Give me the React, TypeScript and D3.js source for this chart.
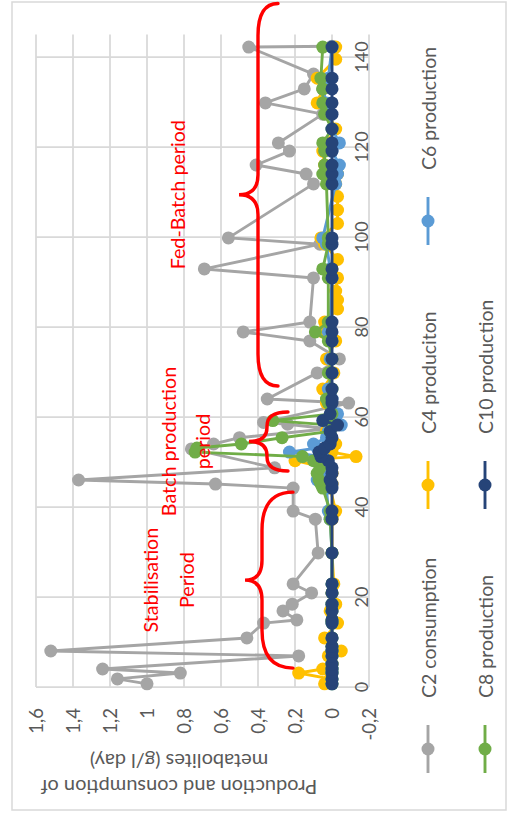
import React from "react";
import * as d3 from "d3";

// Page size; the chart is laid out in a landscape frame and turned a quarter turn.
const PAGE_W = 507;
const PAGE_H = 813;

const dayTicks = [0, 20, 40, 60, 80, 100, 120, 140];
const valueTicks = [-0.2, 0, 0.2, 0.4, 0.6, 0.8, 1, 1.2, 1.4, 1.6];
const valueTickLabels = ["-0,2", "0", "0,2", "0,4", "0,6", "0,8", "1", "1,2", "1,4", "1,6"];

// C2 consumption (g/l day)
const c2Days = [
  0.7, 1.8, 3.1, 4, 6.9, 8, 10.9, 14.2, 14.9, 16.9, 18.4, 20.9, 22.9, 29.8, 37.3, 39.1, 44.2, 45.1, 46,
  48.7, 52.9, 54, 55.4, 57.4, 58.4, 58.8, 63.1, 64, 69.8, 72.9, 76.9, 78.9, 81.1, 90.9, 92.9, 98.4, 99.8,
  111.8, 114, 116, 119.1, 120.9, 127.3, 129.8, 132.9, 136.2, 142.2, 142.4,
];
const c2Values = [
  1.0, 1.16, 0.82, 1.24, 0.18, 1.52, 0.46, 0.37, 0.19, 0.265, 0.215, 0.11, 0.21, 0.075, 0.09, 0.21, 0.21,
  0.63, 1.37, 0.31, 0.76, 0.64, 0.5, 0.02, 0.24, 0.37, -0.09, 0.35, 0.08, -0.04, 0.12, 0.48, 0.12, 0.1,
  0.69, 0.065, 0.56, 0.1, 0.14, 0.41, 0.23, 0.29, 0.05, 0.36, 0.15, 0.1, 0.45, 0.0,
];

// C4 production
const c4Days = [
  0.7, 1.8, 3.1, 4, 5.1, 6.9, 8, 9, 10.9, 14.2, 14.9, 16.9, 18.4, 20.9, 22.9, 29.8, 37.3, 39.1, 44.2, 45.1,
  46, 47.5, 48.7, 50.3, 51.2, 52.2, 53.1, 54, 55.4, 56.8, 58.2, 59.2, 60.7, 63.1, 64, 66.2, 69.8, 72.9,
  76.9, 78.9, 81.1, 84, 86, 88, 90.9, 92.9, 95, 98.4, 99.8, 103, 106, 109, 111.8, 114, 116, 119.1, 120.9,
  124, 127.3, 129.8, 132.9, 135.3, 139.5, 142.2,
];
const c4Values = [
  0.04, 0.01, 0.18, 0.05, 0.0, 0.02, -0.05, 0.0, 0.04, -0.03, 0.0, 0.01, -0.02, 0.0, -0.01, 0.0, 0.0, -0.02,
  0.01, 0.0, 0.02, 0.0, 0.03, 0.2, -0.13, 0.0, 0.02, -0.02, 0.01, 0.03, 0.0, 0.04, 0.0, 0.03, 0.02, 0.05,
  -0.01, 0.03, -0.02, 0.05, 0.04, -0.03, -0.03, -0.02, -0.03, 0.0, -0.03, 0.04, 0.06, -0.03, -0.03, -0.03,
  -0.02, -0.03, 0.04, 0.05, 0.03, -0.02, 0.02, 0.08, 0.05, 0.08, -0.02, -0.02,
];

// Sampling days shared by the C6, C8 and C10 measurements
const productDays = [
  0.7, 1.8, 3.1, 4, 5.1, 6.9, 8, 9, 10.9, 14.2, 14.9, 16.9, 18.4, 20.9, 22.9, 29.8, 37.3, 39.1, 44.2, 45.1,
  46, 47.5, 48.7, 50.3, 51.2, 52.2, 53.1, 54, 55.4, 56.8, 58.2, 59.2, 60.7, 63.1, 64, 66.2, 69.8, 72.9,
  76.9, 78.9, 81.1, 90.9, 92.9, 98.4, 99.8, 111.8, 114, 116, 119.1, 120.9, 124, 127.3, 129.8, 132.9,
  135.3, 142.2,
];
const c6Values = [
  0, 0, 0, 0, 0, 0, 0, 0, 0, 0, 0, 0, 0, 0, 0, 0, 0.01, 0.02, 0.03, 0.05, 0.08, 0.06, 0.03, 0.08, 0.05,
  0.23, 0.08, 0.1, 0.03, 0.02, -0.05, 0.02, -0.03, 0.01, 0, 0.02, 0, 0.01, 0, 0.02, 0.01, 0, 0.01, 0.03,
  0.05, -0.02, -0.03, -0.04, 0, -0.04, 0, 0.02, 0.03, 0.05, 0.02, 0,
];
const c8Values = [
  0, 0, 0, 0, 0, 0, 0, 0, 0, 0, 0, 0, 0, 0, 0, 0, 0.01, 0.01, 0.05, 0.06, 0.07, 0.08, 0.065, 0.1, 0.16,
  0.74, 0.73, 0.49, 0.27, 0.01, 0, 0.32, 0, 0.02, 0.03, 0, 0.02, 0, 0.02, 0.09, 0.02, 0.02, 0.05, 0.02,
  0.02, 0.03, 0.05, 0.04, 0.04, 0.05, 0, 0.04, 0.05, 0.05, 0.06, 0.05,
];
const c10Values = [
  0, 0, 0, 0, 0, 0, 0, 0, 0, 0, 0, 0, 0, 0, 0, 0, 0, 0, 0, 0, 0.01, 0, 0, 0.02, 0.06, 0.07, 0.04, 0.01,
  0, 0.01, -0.03, 0.05, 0.01, 0, 0, 0, 0, 0, 0, 0, 0, 0, 0, 0, 0, 0, 0, 0, 0, 0, 0, 0, 0, 0, 0, 0,
];

const seriesNames = ["C2 consumption", "C4 produciton", "C6 production", "C8 production", "C10 production"];
const seriesColors = ["#A5A5A5", "#FFC000", "#5B9BD5", "#70AD47", "#264478"];
const seriesDays = [c2Days, c4Days, productDays, productDays, productDays];
const seriesValues = [c2Values, c4Values, c6Values, c8Values, c10Values];

// Legend grid placement (column, row) for each series
const legendCols = [0, 1, 2, 0, 1];
const legendRows = [0, 0, 0, 1, 1];

// Period annotations
const periodLabels = [
  { lines: ["Stabilisation", "Period"], from: 4.2, to: 43.3 },
  { lines: ["Batch production", "period"], from: 48, to: 61.1 },
  { lines: ["Fed-Batch period"], from: 66.9, to: 151.9 },
];

const FONT = "Lato, 'Open Sans', sans-serif";
const GRID = "#D9D9D9";
const TEXT = "#595959";
const MARKER_R = 6.5;

function bracePath(a: number, b: number, vEnd: number, vMid: number, vTip: number, e: number, t: number) {
  const m = (a + b) / 2;
  return (
    `M${a},${vEnd} Q${a},${vMid} ${a + e},${vMid} L${m - t},${vMid} Q${m},${vMid} ${m},${vTip} ` +
    `Q${m},${vMid} ${m + t},${vMid} L${b - e},${vMid} Q${b},${vMid} ${b},${vEnd}`
  );
}

export default function App() {
  // Landscape frame: days run along the horizontal, values along the vertical.
  const x = d3.scaleLinear().domain([0, 145]).range([126, 778.5]);
  const y = d3.scaleLinear().domain([-0.2, 1.6]).range([369, 36]);
  const line = d3
    .line<[number, number]>()
    .x((d) => x(d[0]))
    .y((d) => y(d[1]));

  const [x0, x1] = x.range();
  const [yBottom, yTop] = y.range();

  // brace geometry per annotation
  const braceStyle = [
    { vEnd: 293, vMid: 262, vTip: 245, e: 38, t: 20, textY: [157.5, 193.5] },
    { vEnd: 288, vMid: 267, vTip: 249, e: 14, t: 14, textY: [175.5, 209.5] },
    { vEnd: 278, vMid: 258, vTip: 239, e: 32, t: 20, textY: [184.5] },
  ];

  const legendColU = [64, 328, 592];
  const legendRowV = [428, 485];

  return (
    <svg
      width={PAGE_W}
      height={PAGE_H}
      style={{ position: "absolute", left: 0, top: 0, display: "block", background: "#fff" }}
      fontFamily={FONT}
    >
      <rect x={0} y={0} width={PAGE_W} height={PAGE_H} fill="#fff" />
      <g transform={`translate(0,${PAGE_H}) rotate(-90)`}>
        {/* chart border */}
        <rect x={3} y={12} width={808} height={494} fill="none" stroke={GRID} strokeWidth={1.5} />

        {/* value gridlines */}
        {valueTicks.map((v) => (
          <line key={`gv${v}`} x1={x0} x2={x1} y1={y(v)} y2={y(v)} stroke={GRID} strokeWidth={1.75} />
        ))}
        {/* day gridlines */}
        {dayTicks.map((d) => (
          <line key={`gd${d}`} x1={x(d)} x2={x(d)} y1={yTop} y2={yBottom} stroke={GRID} strokeWidth={1.75} />
        ))}

        {/* value tick labels */}
        {valueTicks.map((v, i) => (
          <text
            key={`tv${v}`}
            x={105}
            y={y(v)}
            textAnchor="end"
            dominantBaseline="central"
            fontSize={18.5}
            fill={TEXT}
          >
            {valueTickLabels[i]}
          </text>
        ))}
        {/* day tick labels */}
        {dayTicks.map((d) => (
          <text key={`td${d}`} x={x(d)} y={368} textAnchor="middle" fontSize={18} fill={TEXT}>
            {d}
          </text>
        ))}

        {/* axis title */}
        <g fontSize={20} fill={TEXT} textAnchor="middle" dominantBaseline="central">
          <text transform={`translate(25,179) rotate(-90)`}>Production and consumption of</text>
          <text transform={`translate(51.5,179) rotate(-90)`}>metabolites (g/l day)</text>
        </g>

        {/* series */}
        {seriesNames.map((name, si) => {
          const pts: [number, number][] = seriesDays[si].map((d, i) => [d, seriesValues[si][i]]);
          return (
            <g key={name}>
              <path d={line(pts) ?? ""} fill="none" stroke={seriesColors[si]} strokeWidth={2.9} strokeLinejoin="round" />
              {pts.map((p, i) => (
                <circle key={i} cx={x(p[0])} cy={y(p[1])} r={MARKER_R} fill={seriesColors[si]} />
              ))}
            </g>
          );
        })}

        {/* period braces and labels */}
        {periodLabels.map((p, i) => {
          const s = braceStyle[i];
          const a = x(p.from);
          const b = x(p.to);
          const mid = (a + b) / 2;
          return (
            <g key={p.lines[0]}>
              <path
                d={bracePath(a, b, s.vEnd, s.vMid, s.vTip, s.e, s.t)}
                fill="none"
                stroke="#FF0000"
                strokeWidth={3.4}
                strokeLinecap="round"
              />
              {p.lines.map((ln, j) => (
                <text key={ln} x={mid} y={s.textY[j]} textAnchor="middle" fontSize={19.7} fill="#FF0000">
                  {ln}
                </text>
              ))}
            </g>
          );
        })}

        {/* legend */}
        {seriesNames.map((name, si) => {
          const u = legendColU[legendCols[si]];
          const v = legendRowV[legendRows[si]];
          return (
            <g key={`lg${name}`}>
              <line x1={u - 24} x2={u + 24} y1={v} y2={v} stroke={seriesColors[si]} strokeWidth={2.9} />
              <circle cx={u} cy={v} r={MARKER_R} fill={seriesColors[si]} />
              <text x={u + 51} y={v} dominantBaseline="central" fontSize={19.5} fill={TEXT}>
                {name}
              </text>
            </g>
          );
        })}
      </g>
    </svg>
  );
}
